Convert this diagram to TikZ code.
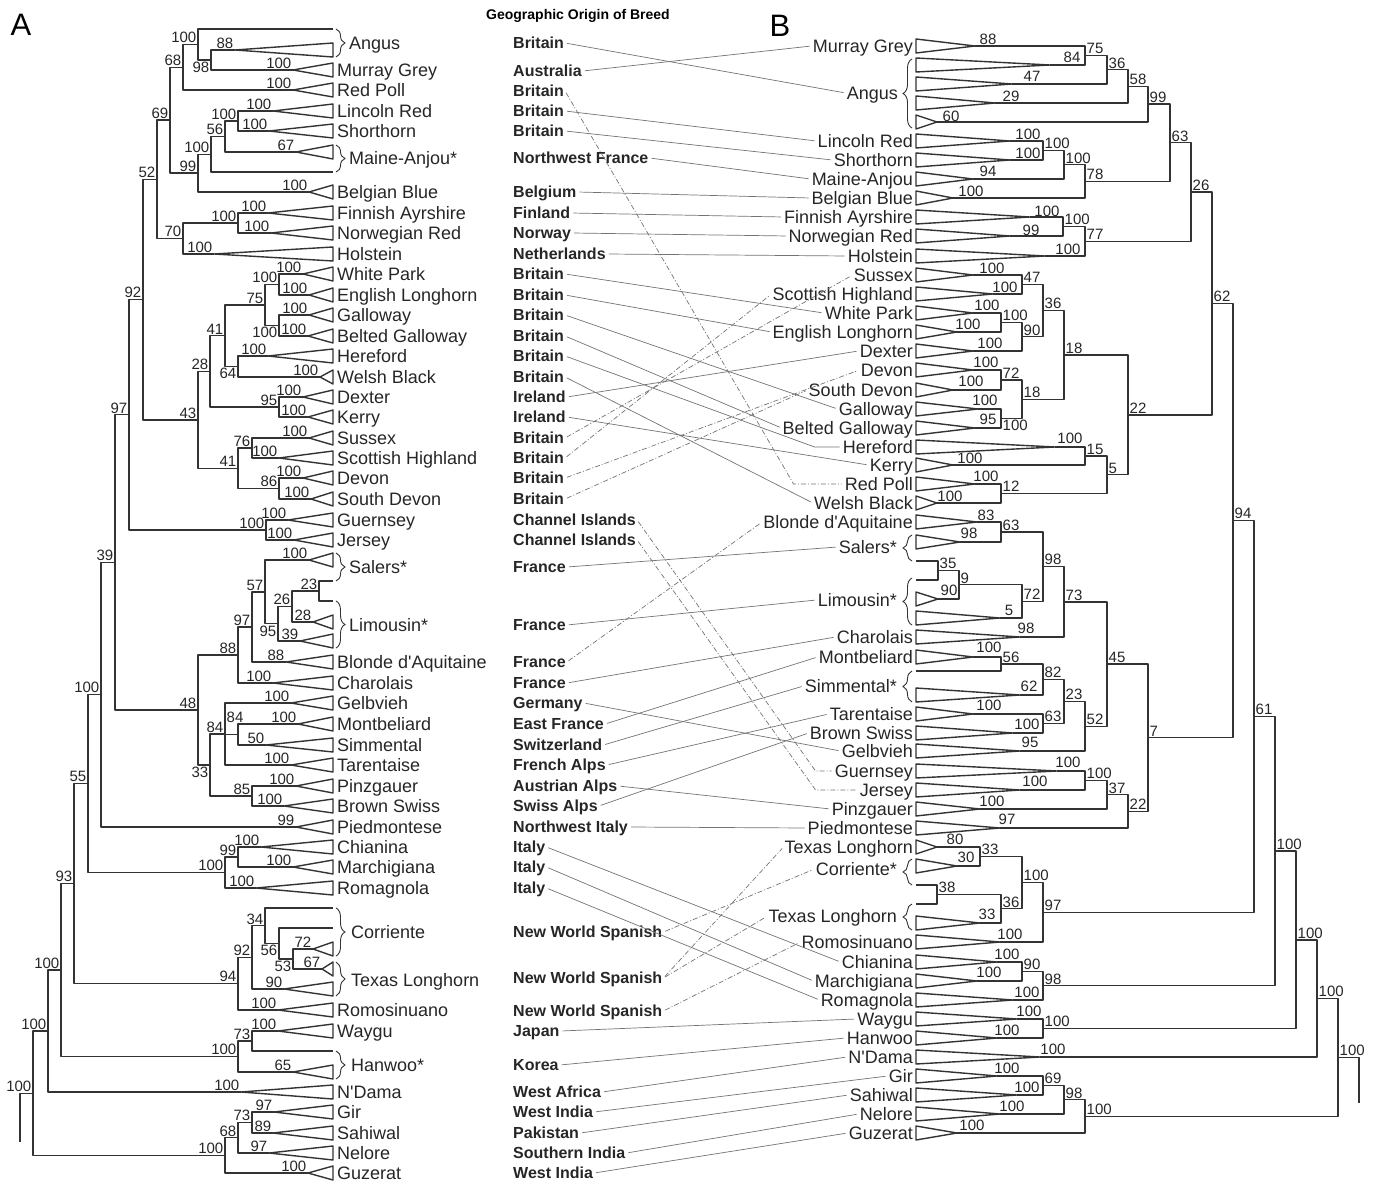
\documentclass[tikz,border=0pt]{standalone}
\usepackage{fontspec}
\setmainfont{Liberation Sans}
\usetikzlibrary{calc,decorations.pathreplacing}

% looks of the two trees and the links between them
\tikzset{
  br/.style={draw=black!80, line width=1.4pt, line join=round},
  bs/.style={font=\fontsize{15}{15}\selectfont, text height=10.7pt, text depth=0pt, inner sep=1.5pt, text=black!85},
  tip/.style={font=\fontsize{18}{18}\selectfont, text height=12.9pt, text depth=0pt, inner sep=1pt, text=black!85},
  geo/.style={font=\bfseries\fontsize{16}{16}\selectfont, text height=11.5pt, text depth=0pt, inner sep=1pt, anchor=west, text=black!85},
  lnk/.style={draw=black!55, line width=0.7pt, shorten <=2pt, shorten >=2pt},
  dd/.style={dash pattern=on 5pt off 2pt on 1pt off 2pt},
  brc/.style={draw=black!80, line width=0.9pt, decorate, decoration={brace, amplitude=9pt}},
}

% collapsed clade of the left tree: name, apex x, row y, support
\newcommand\ltri[4]{%
  \coordinate (#1) at (#2,#3);
  \draw[br] (#1) -- (333,#3-7) -- (333,#3+7) -- cycle;
  \node[bs,anchor=south east] (#1-l) at (#1) {#4};
}
% collapsed clade of the right tree: name, apex x, row y, support, label x, label y
\newcommand\rtri[6]{%
  \coordinate (#1) at (#2,#3);
  \draw[br] (#1) -- (916,#3-7) -- (916,#3+7) -- cycle;
  \node[bs] (#1-l) at (#5,#6) {#4};
}
% inner node: name, x, first child, last child, support
\newcommand\lclade[6][anchor=south east]{%
  \coordinate (m) at ($(#4)!0.5!(#5)$);
  \coordinate (xx) at (#3,0);
  \coordinate (#2) at (xx |- m);
  \draw[br] (#4) -- (#4 -| #2) -- (#5 -| #2) -- (#5);
  \node[bs,#1] (#2-l) at (#2) {#6};
}
\newcommand\rclade[6][anchor=south west]{%
  \coordinate (m) at ($(#4)!0.5!(#5)$);
  \coordinate (xx) at (#3,0);
  \coordinate (#2) at (xx |- m);
  \draw[br] (#4) -- (#4 -| #2) -- (#5 -| #2) -- (#5);
  \node[bs,#1] (#2-l) at (#2) {#6};
}
% links from the origin column to the right tree
\newcommand\lk[3][]{\draw[lnk,#1] (#2.east) -- (#3.west);}
\newcommand\lkb[4][]{\draw[lnk,#1] (#2.east) -- ($(#3.west)+(-#4,0)$) -- (#3.west);}

\begin{document}
\begin{tikzpicture}[x=1pt,y=-1pt]
  \useasboundingbox (0,0) rectangle (1379,1182);

  \node[font=\fontsize{31}{31}\selectfont] (panA) at (21,25) {A};
  \node[font=\fontsize{31}{31}\selectfont] (panB) at (780,26) {B};
  \node[font=\bfseries\fontsize{14}{14}\selectfont] (title) at (578,16) {Geographic Origin of Breed};

  % ---------------- tree A: leaves ----------------
  \coordinate (LAng1) at (333,29);
  \ltri{LAng2}{235}{50}{88}
  \ltri{LMG}{293}{70}{100}
  \ltri{LRP}{293}{90}{100}
  \ltri{LLR}{273}{111}{100}
  \ltri{LSH}{269}{131}{100}
  \ltri{LMA1}{296}{152}{67}
  \coordinate (LMA2) at (333,172);
  \ltri{LBB}{309}{192}{100}
  \ltri{LFA}{268}{213}{100}
  \ltri{LNR}{271}{233}{100}
  \ltri{LHol}{214}{254}{100}
  \ltri{LWP}{303}{274}{100}
  \ltri{LEL}{309}{295}{100}
  \ltri{LGal}{309}{315}{100}
  \ltri{LBG}{308}{336}{100}
  \ltri{LHer}{268}{356}{100}
  \ltri{LWB}{320}{377}{100}
  \ltri{LDex}{303}{397}{100}
  \ltri{LKer}{308}{417}{100}
  \ltri{LSus}{309}{438}{100}
  \ltri{LSch}{279}{458}{100}
  \ltri{LDev}{303}{478}{100}
  \ltri{LSDv}{311}{499}{100}
  \ltri{LGue}{288}{520}{100}
  \ltri{LJer}{294}{540}{100}
  \ltri{LSal1}{309}{560}{100}
  \coordinate (LSal2) at (333,581);
  \coordinate (LLim1) at (333,601);
  \ltri{LLim2}{313}{622}{28}
  \ltri{LLim3}{300}{641}{39}
  \ltri{LBdA}{286}{662}{88}
  \ltri{LCha}{273}{683}{100}
  \ltri{LGel}{291}{703}{100}
  \ltri{LMon}{298}{724}{100}
  \ltri{LSim}{266}{745}{50}
  \ltri{LTar}{291}{765}{100}
  \ltri{LPin}{296}{786}{100}
  \ltri{LBSw}{284}{806}{100}
  \ltri{LPie}{296}{827}{99}
  \ltri{LChi}{261}{847}{100}
  \ltri{LMar}{293}{867}{100}
  \ltri{LRom}{256}{888}{100}
  \coordinate (LCor1) at (333,908);
  \coordinate (LCor2) at (333,928);
  \ltri{LCor3}{313}{949}{72}
  \ltri{LTL1}{322}{969}{67}
  \ltri{LTL2}{284}{989}{90}
  \ltri{LRos}{278}{1010}{100}
  \ltri{LWay}{278}{1031}{100}
  \coordinate (LHan1) at (333,1051);
  \ltri{LHan2}{293}{1072}{65}
  \ltri{LND}{241}{1092}{100}
  \ltri{LGir}{274}{1112}{97}
  \ltri{LSah}{273}{1133}{89}
  \ltri{LNel}{269}{1153}{97}
  \ltri{LGuz}{308}{1173}{100}

  % ---------------- tree A: inner nodes ----------------
  \lclade[anchor=north east]{L98}{211}{LAng2}{LMG}{98}
  \lclade{L100a}{198}{LAng1}{L98}{100}
  \lclade{L68}{183}{L100a}{LRP}{68}
  \lclade{L100b}{238}{LLR}{LSH}{100}
  \lclade{L56}{225}{L100b}{LMA1}{56}
  \lclade{L100c}{211}{L56}{LMA2}{100}
  \lclade{L99}{198}{L100c}{LBB}{99}
  \lclade{L69}{170}{L68}{L99}{69}
  \lclade{L100d}{238}{LFA}{LNR}{100}
  \lclade{L70}{183}{L100d}{LHol}{70}
  \lclade{L52}{157}{L69}{L70}{52}
  \lclade{L100e}{279}{LWP}{LEL}{100}
  \lclade[anchor=north east]{L100f}{279}{LGal}{LBG}{100}
  \lclade{L75}{265}{L100e}{L100f}{75}
  \lclade[anchor=north east]{L64}{238}{LHer}{LWB}{64}
  \lclade{L41a}{225}{L75}{L64}{41}
  \lclade{L95}{279}{LDex}{LKer}{95}
  \lclade{L28}{210}{L41a}{L95}{28}
  \lclade{L76}{252}{LSus}{LSch}{76}
  \lclade{L86}{279}{LDev}{LSDv}{86}
  \lclade{L41b}{238}{L76}{L86}{41}
  \lclade{L43}{198}{L28}{L41b}{43}
  \lclade{L92}{143}{L52}{L43}{92}
  \lclade{L100g}{266}{LGue}{LJer}{100}
  \lclade{L97}{129}{L92}{L100g}{97}
  \lclade{L23}{319}{LSal2}{LLim1}{23}
  \lclade{L26}{292}{L23}{LLim2}{26}
  \lclade[anchor=north east]{L95b}{278}{L26}{LLim3}{95}
  \lclade{L57}{265}{LSal1}{L95b}{57}
  \lclade{L97b}{252}{L57}{LBdA}{97}
  \lclade{L88}{238}{L97b}{LCha}{88}
  \lclade[anchor=south,xshift=-3pt,yshift=10pt]{L84a}{238}{LMon}{LSim}{84}
  \lclade{L84b}{225}{LGel}{LTar}{84}
  \draw[br] (L84a) -- (L84a -| L84b);
  \lclade{L85}{252}{LPin}{LBSw}{85}
  \lclade[anchor=north east]{L33}{210}{L84b}{L85}{33}
  \lclade{L48}{198}{L88}{L33}{48}
  \lclade{L39}{115}{L97}{L48}{39}
  \lclade{L100h}{101}{L39}{LPie}{100}
  \lclade{L99b}{238}{LChi}{LMar}{99}
  \lclade{L100i}{225}{L99b}{LRom}{100}
  \lclade{L55}{88}{L100h}{L100i}{55}
  \lclade[anchor=north east]{L53}{293}{LCor3}{LTL1}{53}
  \lclade[anchor=north east]{L56b}{279}{LCor2}{L53}{56}
  \lclade{L34}{265}{LCor1}{L56b}{34}
  \lclade{L92b}{252}{L34}{LTL2}{92}
  \lclade{L94}{238}{L92b}{LRos}{94}
  \lclade{L93}{74}{L55}{L94}{93}
  \lclade{L73}{252}{LWay}{LHan1}{73}
  \lclade{L100j}{238}{L73}{LHan2}{100}
  \lclade{L100k}{61}{L93}{L100j}{100}
  \lclade{L100l}{48}{L100k}{LND}{100}
  \lclade{L73b}{252}{LGir}{LSah}{73}
  \lclade{L68b}{238}{L73b}{LNel}{68}
  \lclade{L100m}{225}{L68b}{LGuz}{100}
  \lclade{L100n}{33}{L100l}{L100m}{100}
  \coordinate (Lroot) at (20,1142);
  \draw[br] (L100n) -- (L100n -| Lroot) -- (Lroot);

  % ---------------- tree A: breed names ----------------
  \draw[brc] (336,29) -- (336,57);
  \draw[brc] (336,145) -- (336,172);
  \draw[brc] (336,553) -- (336,581);
  \draw[brc] (336,601) -- (336,648);
  \draw[brc] (336,908) -- (336,956);
  \draw[brc] (336,962) -- (336,996);
  \draw[brc] (336,1051) -- (336,1079);
  \node[tip,anchor=west] (tlAng) at (348,43) {Angus};
  \node[tip,anchor=west] (tlMG) at (336,70) {Murray Grey};
  \node[tip,anchor=west] (tlRP) at (336,90) {Red Poll};
  \node[tip,anchor=west] (tlLR) at (336,111) {Lincoln Red};
  \node[tip,anchor=west] (tlSH) at (336,131) {Shorthorn};
  \node[tip,anchor=west] (tlMA) at (348,158) {Maine-Anjou*};
  \node[tip,anchor=west] (tlBB) at (336,192) {Belgian Blue};
  \node[tip,anchor=west] (tlFA) at (336,213) {Finnish Ayrshire};
  \node[tip,anchor=west] (tlNR) at (336,233) {Norwegian Red};
  \node[tip,anchor=west] (tlHol) at (336,254) {Holstein};
  \node[tip,anchor=west] (tlWP) at (336,274) {White Park};
  \node[tip,anchor=west] (tlEL) at (336,295) {English Longhorn};
  \node[tip,anchor=west] (tlGal) at (336,315) {Galloway};
  \node[tip,anchor=west] (tlBG) at (336,336) {Belted Galloway};
  \node[tip,anchor=west] (tlHer) at (336,356) {Hereford};
  \node[tip,anchor=west] (tlWB) at (336,377) {Welsh Black};
  \node[tip,anchor=west] (tlDex) at (336,397) {Dexter};
  \node[tip,anchor=west] (tlKer) at (336,417) {Kerry};
  \node[tip,anchor=west] (tlSus) at (336,438) {Sussex};
  \node[tip,anchor=west] (tlSch) at (336,458) {Scottish Highland};
  \node[tip,anchor=west] (tlDev) at (336,478) {Devon};
  \node[tip,anchor=west] (tlSD) at (336,499) {South Devon};
  \node[tip,anchor=west] (tlGue) at (336,520) {Guernsey};
  \node[tip,anchor=west] (tlJer) at (336,540) {Jersey};
  \node[tip,anchor=west] (tlSal) at (348,567) {Salers*};
  \node[tip,anchor=west] (tlLim) at (348,625) {Limousin*};
  \node[tip,anchor=west] (tlBdA) at (336,662) {Blonde d\textquotesingle Aquitaine};
  \node[tip,anchor=west] (tlCha) at (336,683) {Charolais};
  \node[tip,anchor=west] (tlGel) at (336,703) {Gelbvieh};
  \node[tip,anchor=west] (tlMon) at (336,724) {Montbeliard};
  \node[tip,anchor=west] (tlSim) at (336,745) {Simmental};
  \node[tip,anchor=west] (tlTar) at (336,765) {Tarentaise};
  \node[tip,anchor=west] (tlPin) at (336,786) {Pinzgauer};
  \node[tip,anchor=west] (tlBS) at (336,806) {Brown Swiss};
  \node[tip,anchor=west] (tlPie) at (336,827) {Piedmontese};
  \node[tip,anchor=west] (tlChi) at (336,847) {Chianina};
  \node[tip,anchor=west] (tlMar) at (336,867) {Marchigiana};
  \node[tip,anchor=west] (tlRom) at (336,888) {Romagnola};
  \node[tip,anchor=west] (tlCor) at (350,932) {Corriente};
  \node[tip,anchor=west] (tlTL) at (350,980) {Texas Longhorn};
  \node[tip,anchor=west] (tlRos) at (336,1010) {Romosinuano};
  \node[tip,anchor=west] (tlWay) at (336,1031) {Waygu};
  \node[tip,anchor=west] (tlHan) at (350,1065) {Hanwoo*};
  \node[tip,anchor=west] (tlND) at (336,1092) {N\textquotesingle Dama};
  \node[tip,anchor=west] (tlGir) at (336,1112) {Gir};
  \node[tip,anchor=west] (tlSah) at (336,1133) {Sahiwal};
  \node[tip,anchor=west] (tlNel) at (336,1153) {Nelore};
  \node[tip,anchor=west] (tlGuz) at (336,1173) {Guzerat};

  % ---------------- origin column ----------------
  \node[geo] (gAng) at (512,43) {Britain};
  \node[geo] (gMG) at (512,71) {Australia};
  \node[geo] (gRP) at (512,91) {Britain};
  \node[geo] (gLR) at (512,111) {Britain};
  \node[geo] (gSH) at (512,131) {Britain};
  \node[geo] (gMA) at (512,158) {Northwest France};
  \node[geo] (gBB) at (512,192) {Belgium};
  \node[geo] (gFA) at (512,213) {Finland};
  \node[geo] (gNR) at (512,233) {Norway};
  \node[geo] (gHol) at (512,254) {Netherlands};
  \node[geo] (gWP) at (512,274) {Britain};
  \node[geo] (gEL) at (512,295) {Britain};
  \node[geo] (gGal) at (512,315) {Britain};
  \node[geo] (gBG) at (512,336) {Britain};
  \node[geo] (gHer) at (512,356) {Britain};
  \node[geo] (gWB) at (512,377) {Britain};
  \node[geo] (gDex) at (512,397) {Ireland};
  \node[geo] (gKer) at (512,417) {Ireland};
  \node[geo] (gSus) at (512,438) {Britain};
  \node[geo] (gSch) at (512,458) {Britain};
  \node[geo] (gDev) at (512,478) {Britain};
  \node[geo] (gSD) at (512,499) {Britain};
  \node[geo] (gGue) at (512,520) {Channel Islands};
  \node[geo] (gJer) at (512,540) {Channel Islands};
  \node[geo] (gSal) at (512,567) {France};
  \node[geo] (gLim) at (512,625) {France};
  \node[geo] (gBdA) at (512,662) {France};
  \node[geo] (gCha) at (512,683) {France};
  \node[geo] (gGel) at (512,703) {Germany};
  \node[geo] (gMon) at (512,724) {East France};
  \node[geo] (gSim) at (512,745) {Switzerland};
  \node[geo] (gTar) at (512,765) {French Alps};
  \node[geo] (gPin) at (512,786) {Austrian Alps};
  \node[geo] (gBS) at (512,806) {Swiss Alps};
  \node[geo] (gPie) at (512,827) {Northwest Italy};
  \node[geo] (gChi) at (512,847) {Italy};
  \node[geo] (gMar) at (512,867) {Italy};
  \node[geo] (gRom) at (512,888) {Italy};
  \node[geo] (gCor) at (512,932) {New World Spanish};
  \node[geo] (gTL) at (512,978) {New World Spanish};
  \node[geo] (gRos) at (512,1011) {New World Spanish};
  \node[geo] (gWay) at (512,1031) {Japan};
  \node[geo] (gHan) at (512,1065) {Korea};
  \node[geo] (gND) at (512,1092) {West Africa};
  \node[geo] (gGir) at (512,1112) {West India};
  \node[geo] (gSah) at (512,1133) {Pakistan};
  \node[geo] (gNel) at (512,1153) {Southern India};
  \node[geo] (gGuz) at (512,1173) {West India};

  % ---------------- tree B: leaves ----------------
  \rtri{RMG}{975}{46}{88}{988}{39}
  \rtri{RAng1}{1050}{65}{84}{1072}{57}
  \rtri{RAng2}{1012}{84}{47}{1032}{76}
  \rtri{RAng3}{995}{103}{29}{1011}{96}
  \rtri{RAng4}{937}{122}{60}{951}{116}
  \rtri{RLR}{1010}{141}{100}{1028}{134}
  \rtri{RSH}{1010}{160}{100}{1028}{153}
  \rtri{RMA}{973}{179}{94}{988}{171}
  \rtri{RBB}{953}{198}{100}{971}{191}
  \rtri{RFA}{1030}{217}{100}{1047}{211}
  \rtri{RNR}{1010}{236}{99}{1031}{230}
  \rtri{RHol}{1045}{256}{100}{1068}{249}
  \rtri{RSus}{973}{275}{100}{992}{268}
  \rtri{RSch}{993}{294}{100}{1005}{287}
  \rtri{RWP}{973}{313}{100}{987}{305}
  \rtri{REL}{957}{332}{100}{968}{324}
  \rtri{RDex}{973}{351}{100}{990}{343}
  \rtri{RDev}{973}{370}{100}{986}{362}
  \rtri{RSD}{953}{390}{100}{971}{381}
  \rtri{RGal}{978}{409}{100}{985}{400}
  \rtri{RBG}{975}{428}{95}{988}{419}
  \rtri{RHer}{1055}{447}{100}{1070}{438}
  \rtri{RKer}{953}{465}{100}{970}{458}
  \rtri{RRP}{975}{484}{100}{986}{476}
  \rtri{RWB}{937}{503}{100}{950}{496}
  \rtri{RBdA}{977}{522}{83}{986}{515}
  \rtri{RSal}{960}{542}{98}{969}{533}
  \coordinate (RSal2) at (916,561);
  \coordinate (RLim1) at (916,580);
  \rtri{RLim2}{938}{599}{90}{949}{590}
  \rtri{RLim3}{1000}{618}{5}{1009}{610}
  \rtri{RCha}{1020}{637}{98}{1026}{628}
  \rtri{RMon}{973}{657}{100}{989}{647}
  \coordinate (RSim1) at (916,671);
  \rtri{RSim2}{1020}{695}{62}{1029}{686}
  \rtri{RTar}{973}{714}{100}{989}{705}
  \rtri{RBS}{1013}{733}{100}{1027}{724}
  \rtri{RGel}{1020}{751}{95}{1030}{742}
  \rtri{RGue}{1057}{771}{100}{1068}{762}
  \rtri{RJer}{1020}{790}{100}{1035}{781}
  \rtri{RPin}{980}{809}{100}{992}{801}
  \rtri{RPie}{1000}{828}{97}{1007}{819}
  \rtri{RTL1}{937}{847}{80}{955}{839}
  \rtri{RCor1}{957}{866}{30}{966}{857}
  \coordinate (RCor2) at (916,885);
  \coordinate (RTL2) at (916,904);
  \rtri{RTL3}{980}{923}{33}{987}{914}
  \rtri{RRos}{1000}{942}{100}{1010}{934}
  \rtri{RChi}{997}{962}{100}{1007}{954}
  \rtri{RMar}{977}{981}{100}{989}{972}
  \rtri{RRom}{1013}{1000}{100}{1027}{992}
  \rtri{RWay}{1017}{1019}{100}{1029}{1011}
  \rtri{RHan}{997}{1038}{100}{1007}{1030}
  \rtri{RND}{1040}{1057}{100}{1053}{1049}
  \rtri{RGir}{997}{1076}{100}{1007}{1068}
  \rtri{RSah}{1017}{1095}{100}{1027}{1087}
  \rtri{RNel}{1000}{1114}{100}{1012}{1106}
  \rtri{RGuz}{957}{1133}{100}{972}{1125}

  % ---------------- tree B: inner nodes ----------------
  \rclade{R75}{1085}{RMG}{RAng1}{75}
  \rclade{R36a}{1107}{R75}{RAng2}{36}
  \rclade{R58}{1128}{R36a}{RAng3}{58}
  \rclade{R99}{1148}{R58}{RAng4}{99}
  \rclade{R100ls}{1043}{RLR}{RSH}{100}
  \rclade{R100lsm}{1064}{R100ls}{RMA}{100}
  \rclade{R78}{1085}{R100lsm}{RBB}{78}
  \rclade{R63a}{1170}{R99}{R78}{63}
  \rclade{R100fn}{1063}{RFA}{RNR}{100}
  \rclade{R77}{1085}{R100fn}{RHol}{77}
  \rclade{R26}{1191}{R63a}{R77}{26}
  \rclade{R47}{1022}{RSus}{RSch}{47}
  \rclade{R100we}{1001}{RWP}{REL}{100}
  \rclade{R90}{1022}{R100we}{RDex}{90}
  \rclade{R36b}{1043}{R47}{R90}{36}
  \rclade{R72}{1001}{RDev}{RSD}{72}
  \rclade[anchor=north west]{R100gb}{1001}{RGal}{RBG}{100}
  \rclade{R18b}{1022}{R72}{R100gb}{18}
  \rclade{R18a}{1064}{R36b}{R18b}{18}
  \rclade{R15}{1085}{RHer}{RKer}{15}
  \rclade{R12}{1001}{RRP}{RWB}{12}
  \rclade{R5}{1107}{R15}{R12}{5}
  \rclade{R22}{1128}{R18a}{R5}{22}
  \rclade{R62}{1212}{R26}{R22}{62}
  \rclade{R63b}{1001}{RBdA}{RSal}{63}
  \rclade{R35}{938}{RSal2}{RLim1}{35}
  \rclade{R9}{959}{R35}{RLim2}{9}
  \rclade{R72b}{1022}{R9}{RLim3}{72}
  \rclade{R98a}{1043}{R63b}{R72b}{98}
  \rclade{R73}{1064}{R98a}{RCha}{73}
  \rclade{R56}{1001}{RMon}{RSim1}{56}
  \rclade{R82}{1043}{R56}{RSim2}{82}
  \rclade{R63c}{1043}{RTar}{RBS}{63}
  \rclade{R23}{1064}{R82}{R63c}{23}
  \rclade{R52}{1085}{R23}{RGel}{52}
  \rclade{R45}{1107}{R73}{R52}{45}
  \rclade{R100gj}{1085}{RGue}{RJer}{100}
  \rclade{R37}{1107}{R100gj}{RPin}{37}
  \rclade{R22b}{1128}{R37}{RPie}{22}
  \rclade{R7}{1148}{R45}{R22b}{7}
  \rclade{R94}{1233}{R62}{R7}{94}
  \rclade{R33a}{980}{RTL1}{RCor1}{33}
  \rclade{R38}{937}{RCor2}{RTL2}{38}
  \rclade{R36c}{1001}{R38}{RTL3}{36}
  \rclade{R100c}{1022}{R33a}{R36c}{100}
  \rclade{R97b}{1043}{R100c}{RRos}{97}
  \rclade{R61}{1254}{R94}{R97b}{61}
  \rclade{R90b}{1022}{RChi}{RMar}{90}
  \rclade{R98c}{1043}{R90b}{RRom}{98}
  \rclade{R100r1}{1275}{R61}{R98c}{100}
  \rclade{R100wh}{1043}{RWay}{RHan}{100}
  \rclade{R100r2}{1296}{R100r1}{R100wh}{100}
  \rclade{R100r3}{1317}{R100r2}{RND}{100}
  \rclade{R69}{1043}{RGir}{RSah}{69}
  \rclade{R98d}{1064}{R69}{RNel}{98}
  \rclade{R100in}{1085}{R98d}{RGuz}{100}
  \rclade{R100r4}{1338}{R100r3}{R100in}{100}
  \coordinate (Rroot) at (1359,1103);
  \draw[br] (R100r4) -- (R100r4 -| Rroot) -- (Rroot);

  % ---------------- tree B: breed names ----------------
  \draw[brc] (912,128) -- (912,59);
  \draw[brc] (912,561) -- (912,535);
  \draw[brc] (912,625) -- (912,578);
  \draw[brc] (912,702) -- (912,671);
  \draw[brc] (912,885) -- (912,859);
  \draw[brc] (912,930) -- (912,904);
  \node[tip,anchor=east] (tMG) at (914,46) {Murray Grey};
  \node[tip,anchor=east] (tAng) at (899,93) {Angus};
  \node[tip,anchor=east] (tLR) at (914,141) {Lincoln Red};
  \node[tip,anchor=east] (tSH) at (914,160) {Shorthorn};
  \node[tip,anchor=east] (tMA) at (914,179) {Maine-Anjou};
  \node[tip,anchor=east] (tBB) at (914,198) {Belgian Blue};
  \node[tip,anchor=east] (tFA) at (914,217) {Finnish Ayrshire};
  \node[tip,anchor=east] (tNR) at (914,236) {Norwegian Red};
  \node[tip,anchor=east] (tHol) at (914,256) {Holstein};
  \node[tip,anchor=east] (tSus) at (914,275) {Sussex};
  \node[tip,anchor=east] (tSch) at (914,294) {Scottish Highland};
  \node[tip,anchor=east] (tWP) at (914,313) {White Park};
  \node[tip,anchor=east] (tEL) at (914,332) {English Longhorn};
  \node[tip,anchor=east] (tDex) at (914,351) {Dexter};
  \node[tip,anchor=east] (tDev) at (914,370) {Devon};
  \node[tip,anchor=east] (tSD) at (914,390) {South Devon};
  \node[tip,anchor=east] (tGal) at (914,409) {Galloway};
  \node[tip,anchor=east] (tBG) at (914,428) {Belted Galloway};
  \node[tip,anchor=east] (tHer) at (914,447) {Hereford};
  \node[tip,anchor=east] (tKer) at (914,465) {Kerry};
  \node[tip,anchor=east] (tRP) at (914,484) {Red Poll};
  \node[tip,anchor=east] (tWB) at (914,503) {Welsh Black};
  \node[tip,anchor=east] (tBdA) at (914,522) {Blonde d\textquotesingle Aquitaine};
  \node[tip,anchor=east] (tSal) at (898,547) {Salers*};
  \node[tip,anchor=east] (tLim) at (898,600) {Limousin*};
  \node[tip,anchor=east] (tCha) at (914,637) {Charolais};
  \node[tip,anchor=east] (tMon) at (914,657) {Montbeliard};
  \node[tip,anchor=east] (tSim) at (898,686) {Simmental*};
  \node[tip,anchor=east] (tTar) at (914,714) {Tarentaise};
  \node[tip,anchor=east] (tBS) at (914,733) {Brown Swiss};
  \node[tip,anchor=east] (tGel) at (914,751) {Gelbvieh};
  \node[tip,anchor=east] (tGue) at (914,771) {Guernsey};
  \node[tip,anchor=east] (tJer) at (914,790) {Jersey};
  \node[tip,anchor=east] (tPin) at (914,809) {Pinzgauer};
  \node[tip,anchor=east] (tPie) at (914,828) {Piedmontese};
  \node[tip,anchor=east] (tTL1) at (914,847) {Texas Longhorn};
  \node[tip,anchor=east] (tCor) at (898,869) {Corriente*};
  \node[tip,anchor=east] (tTL2) at (898,916) {Texas Longhorn};
  \node[tip,anchor=east] (tRos) at (914,942) {Romosinuano};
  \node[tip,anchor=east] (tChi) at (914,962) {Chianina};
  \node[tip,anchor=east] (tMar) at (914,981) {Marchigiana};
  \node[tip,anchor=east] (tRom) at (914,1000) {Romagnola};
  \node[tip,anchor=east] (tWay) at (914,1019) {Waygu};
  \node[tip,anchor=east] (tHan) at (914,1038) {Hanwoo};
  \node[tip,anchor=east] (tND) at (914,1057) {N\textquotesingle Dama};
  \node[tip,anchor=east] (tGir) at (914,1076) {Gir};
  \node[tip,anchor=east] (tSah) at (914,1095) {Sahiwal};
  \node[tip,anchor=east] (tNel) at (914,1114) {Nelore};
  \node[tip,anchor=east] (tGuz) at (914,1133) {Guzerat};

  % ---------------- origin -> tree B ----------------
  \lk{gAng}{tAng}
  \lk{gMG}{tMG}
  \lkb[dd]{gRP}{tRP}{50}
  \lk{gLR}{tLR}
  \lk{gSH}{tSH}
  \lk{gMA}{tMA}
  \lk{gBB}{tBB}
  \lk{gFA}{tFA}
  \lk{gNR}{tNR}
  \lk{gHol}{tHol}
  \lk{gWP}{tWP}
  \lk{gEL}{tEL}
  \lk{gGal}{tGal}
  \lk{gBG}{tBG}
  \lkb{gHer}{tHer}{27}
  \lk{gWB}{tWB}
  \lk{gDex}{tDex}
  \lk{gKer}{tKer}
  \lk[dd]{gSus}{tSus}
  \lk[dd]{gSch}{tSch}
  \lk[dd]{gDev}{tDev}
  \lk[dd]{gSD}{tSD}
  \lkb[dd]{gGue}{tGue}{18}
  \lkb[dd]{gJer}{tJer}{43}
  \lk{gSal}{tSal}
  \lk{gLim}{tLim}
  \lk[dd]{gBdA}{tBdA}
  \lk{gCha}{tCha}
  \lk{gGel}{tGel}
  \lk{gMon}{tMon}
  \lk{gSim}{tSim}
  \lk{gTar}{tTar}
  \lk{gPin}{tPin}
  \lk{gBS}{tBS}
  \lk{gPie}{tPie}
  \lk{gChi}{tChi}
  \lk{gMar}{tMar}
  \lk{gRom}{tRom}
  \lk[dd]{gCor}{tCor}
  \lk[dd]{gTL}{tTL1}
  \lk[dd]{gTL}{tTL2}
  \lk[dd]{gRos}{tRos}
  \lk{gWay}{tWay}
  \lk{gHan}{tHan}
  \lk{gND}{tND}
  \lk{gGir}{tGir}
  \lk{gSah}{tSah}
  \lk{gNel}{tNel}
  \lk{gGuz}{tGuz}
\end{tikzpicture}
\end{document}
